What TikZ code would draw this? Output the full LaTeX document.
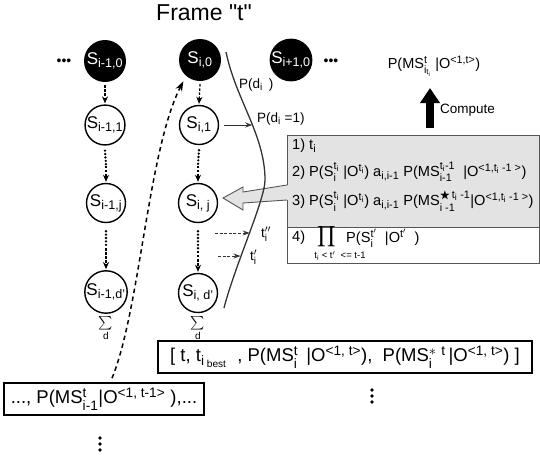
\documentclass[tikz,border=0pt]{standalone}
\usepackage{amsmath}
\usepackage{amssymb}
\usepackage{fontspec}
\setmainfont{Liberation Sans}
\usetikzlibrary{arrows.meta}

% larger script sizes than the default
\renewcommand{\defaultscriptratio}{.74}
\renewcommand{\defaultscriptscriptratio}{.6}

% text-font sub- and superscripts
\newcommand\dn[1]{\ensuremath{_{\text{#1}}}}
\newcommand\up[1]{\ensuremath{^{\text{#1}}}}
\newcommand\ud[2]{\ensuremath{^{\text{#1}}_{\text{#2}}}}

\definecolor{boxgray}{HTML}{E3E3E3}
\definecolor{linegray}{HTML}{555555}
\definecolor{tipblue}{HTML}{1F3A70}

\tikzset{
  blk/.style={circle, fill=black, text=white, minimum size=42pt, inner sep=0pt,
    font=\fontsize{17}{19}\selectfont},
  wht/.style={circle, draw, line width=1.4pt, fill=white, minimum size=39pt, inner sep=0pt,
    font=\fontsize{17}{19}\selectfont},
  lbl/.style={inner sep=0pt, font=\fontsize{13.5}{15}\selectfont},
  boxline/.style={inner sep=0pt, anchor=west, font=\fontsize{14.6}{16}\selectfont},
  sig/.style={inner sep=0pt, font=\fontsize{13.5}{15}\selectfont},
  resbox/.style={draw, line width=1.6pt, inner sep=0pt, font=\fontsize{18.5}{20}\selectfont},
  chainarr/.style={-{Stealth[length=7pt,width=6pt]}, line width=1.2pt, dash pattern=on 2.5pt off 1.6pt},
  dotline/.style={line width=2.6pt, line cap=round, dash pattern=on 0pt off 3.4pt},
  curve/.style={line width=1.3pt, draw=black!80},
  smallarr/.style={-{Stealth[length=7pt,width=5pt]}, line width=0.9pt, draw=black!80},
  dasharr/.style={-{Stealth[length=7pt,width=5pt]}, line width=0.9pt, draw=black!80, dash pattern=on 3pt off 1.6pt},
  longdash/.style={-{Stealth[length=10pt,width=7pt,fill=tipblue]}, line width=1.5pt, dash pattern=on 4.5pt off 3.5pt},
  bigarr/.style={-{Triangle[length=15pt,width=19pt]}, line width=7.5pt},
  vdot/.style={fill=black},
}

\begin{document}
\begin{tikzpicture}[x=1pt, y=-1pt]
\useasboundingbox (0,0) rectangle (540,459);

% title
\node[inner sep=0pt, font=\fontsize{23}{26}\selectfont] (title) at (204,13) {Frame \textquotedbl t\textquotedbl};

% state nodes
\node[blk] (a0) at (105,61) {S\dn{i-1,0}};
\node[blk] (b0) at (200,60) {S\dn{i,0}};
\node[blk] (c0) at (291,60) {S\dn{i+1,0}};
\node[wht] (a1) at (105,125) {S\dn{i-1,1}};
\node[wht] (b1) at (199,125) {S\dn{i,1}};
\node[wht] (aj) at (106,203) {S\dn{i-1,j}};
\node[wht] (bj) at (198,203) {S\dn{i, j}};
\node[wht] (ad) at (106,292) {S\dn{i-1,d'}};
\node[wht] (bd) at (198,293) {S\dn{i, d'}};

\node[inner sep=0pt, font=\fontsize{14}{16}\selectfont] (ldots) at (64,62) {•••};
\node[inner sep=0pt, font=\fontsize{14}{16}\selectfont] (rdots) at (331,62) {•••};

% chains of durations
\foreach \u/\v in {a0/a1, b0/b1}
  \draw[chainarr] ([yshift=-3pt]\u.south) -- ([yshift=1pt]\v.north);
\foreach \u/\v in {a1/aj, b1/bj}{
  \draw[dotline] ([yshift=-5pt]\u.south) -- ([yshift=18pt]\v.north);
  \draw[chainarr] ([yshift=17pt]\v.north) -- ([yshift=1pt]\v.north);
}
\foreach \u/\v in {aj/ad, bj/bd}{
  \draw[dotline] ([yshift=-8pt]\u.south) -- ([yshift=24pt]\v.north);
  \draw[chainarr] ([yshift=22pt]\v.north) -- ([yshift=1pt]\v.north);
}

\node[sig, anchor=north] (as) at (106,316) {$\sum\limits_{\text{d}}$};
\node[sig, anchor=north] (bs) at (198,316) {$\sum\limits_{\text{d}}$};

% computation box
\fill[boxgray] (287,135) rectangle (539.5,227);
\draw[linegray, line width=0.9pt] (287,135) rectangle (539.5,227);
\draw[linegray, line width=0.9pt] (287,227) rectangle (539.5,263);
\node[boxline] (l1) at (292,146) {1) t\dn{i}};
\node[boxline] (l2) at (292,172) {2) P(S\ud{t\dn{i}}{i} |O\up{t\dn{i}}) a\dn{i,i-1} P(MS\ud{t\dn{i}-1}{i-1} \ |O\up{<1,t\dn{i} -1 >})};
\node[boxline] (l3) at (292,201) {3) P(S\ud{t\dn{i}}{i} |O\up{t\dn{i}}) a\dn{i,i-1} P(MS$^{\bigstar\,\text{t}_{\text{i}}\text{ -1}}_{\text{i -1}}$|O\up{<1,t\dn{i} -1 >})};
\node[boxline] (l4) at (292,238) {4)};
\node[inner sep=0pt, font=\fontsize{14.5}{16}\selectfont] (prodsym) at (327,237) {$\displaystyle\prod$};
\node[inner sep=0pt, font=\fontsize{9.5}{11}\selectfont] (prodlim) at (340,256) {t\dn{i} < t$'$\ \ <= t-1};
\node[boxline] (l4b) at (346,238) {P(S\ud{t$'$}{i} \ |O\up{t$'$} \ )};

% callout arrow into the box
\fill[boxgray] (289,185) -- (243,192) -- (243,187) -- (223,198) -- (243,210) -- (243,203) -- (289,200) -- cycle;
\draw[linegray, line width=0.9pt, line join=miter] (287,185) -- (243,192) -- (243,187) -- (223,198) -- (243,210) -- (243,203) -- (287,200);

% duration probability curve
\coordinate (ctop) at (226,52);
\coordinate (cmid) at (265,180);
\coordinate (cbot) at (224,308);
\draw[curve] (ctop) .. controls (236,100) and (265,135) .. coordinate[pos=0.56] (cA) (cmid)
  .. controls (265,200) and (235,265) .. coordinate[pos=0.48] (cB) coordinate[pos=0.65] (cC) (cbot);

\node[lbl, anchor=west] (pd) at (239,85) {P(d\dn{i}\ \,)};
\node[lbl, anchor=west] (pd1) at (257,119) {P(d\dn{i} =1)};
\draw[smallarr] ([xshift=5pt]b1.east) -- (b1.east -| cA);

\coordinate (tpp) at (215,233);
\coordinate (tp) at (218,256);
\draw[dasharr] (tpp) -- (tpp -| cB);
\draw[dasharr] (tp) -- (tp -| cC);
\node[lbl, anchor=west] (tpplbl) at (261,234) {t$''_{\text{i}}$};
\node[lbl, anchor=west] (tplbl) at (250,257) {t$'_{\text{i}}$};

% result of the frame
\node[inner sep=0pt, font=\fontsize{14.5}{16}\selectfont] (pms) at (434,66) {P(MS\ud{t}{i\dn{t\dn{i}}} |O\up{<1,t>})};
\coordinate (cs) at (430,128);
\draw[bigarr] (cs) -- (cs |- 0,88);
\node[lbl, anchor=west] (comp) at (440,110) {Compute};

\node[resbox, minimum width=374pt, minimum height=32pt] (res) at (345,357)
  {[\ t, t\dn{i\dn{ best}} \ , P(MS\ud{t}{i} \,|O\up{<1, t>}),\ \ P(MS$^{\ast\ \text{t}}_{\text{i}}$\,|O\up{<1, t>}) ]};
\node[resbox, minimum width=200pt, minimum height=32pt] (prev) at (104,399)
  {..., P(MS\ud{t}{i-1}|O\up{<1, t-1>} ),...};

% link from the previous frame
\draw[longdash] ([xshift=8pt,yshift=4pt]prev.north) .. controls (140,310) and (148,150) .. ([shift={(-3pt,-5pt)}]b0.230);

% continuation marks
\foreach \y in {390,396,402} \fill[vdot] (372,\y) circle (1.8);
\foreach \y in {438,444,450} \fill[vdot] (100,\y) circle (1.8);
\end{tikzpicture}
\end{document}
